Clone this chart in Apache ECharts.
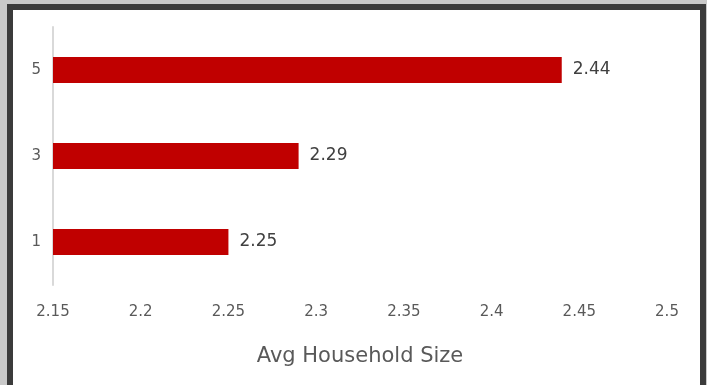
<!DOCTYPE html>
<html><head><meta charset="utf-8">
<script src="https://cdn.jsdelivr.net/npm/echarts@6/dist/echarts.min.js"></script>
<style>
html,body{margin:0;padding:0;width:707px;height:385px;overflow:hidden;background:#c9c9c9;}
#frame{position:absolute;left:7px;top:4px;width:687px;height:400px;border:6px solid #3b3b3b;background:#fff;}
#chart{position:absolute;left:0;top:0;width:707px;height:385px;}
</style></head>
<body>
<div id="frame"></div>
<div id="chart"></div>
<script>
const categories = ['1', '3', '5'];
const values = [2.25, 2.29, 2.44];
const axisName = 'Avg Household Size';
const xMin = 2.15, xMax = 2.5, xStep = 0.05;

const chart = echarts.init(document.getElementById('chart'), null, {renderer: 'canvas'});
const font = '"DejaVu Sans", sans-serif';
chart.setOption({
  animation: false,
  backgroundColor: 'transparent',
  grid: {left: 53, right: 40, top: 27, bottom: 100, containLabel: false},
  xAxis: {
    type: 'value', min: xMin, max: xMax, interval: xStep,
    axisLine: {show: false}, axisTick: {show: false}, splitLine: {show: false},
    axisLabel: {color: '#595959', fontSize: 15, fontFamily: font, margin: 20,
      formatter: v => String(parseFloat(v.toFixed(2)))},
    name: axisName, nameLocation: 'middle', nameGap: 61,
    nameTextStyle: {color: '#595959', fontSize: 21, fontFamily: font}
  },
  yAxis: {
    type: 'category', data: categories,
    axisLine: {show: true, lineStyle: {color: '#d9d9d9', width: 2}},
    axisTick: {show: false},
    axisLabel: {color: '#595959', fontSize: 15, fontFamily: font, margin: 12}
  },
  series: [{
    type: 'bar', data: values, barWidth: '30%',
    itemStyle: {color: '#c00000'},
    label: {show: true, position: 'right', distance: 11, color: '#404040', fontSize: 17, fontFamily: font}
  }]
});
</script>
</body></html>
